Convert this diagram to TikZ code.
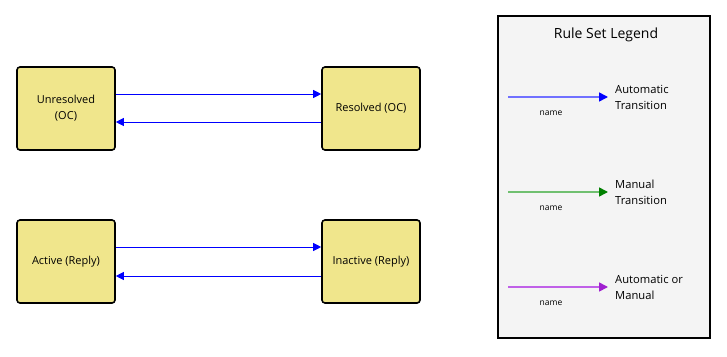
\documentclass[tikz,border=0pt]{standalone}
\usepackage{fontspec}
\setmainfont{Open Sans}
\usetikzlibrary{arrows.meta}
\definecolor{boxfill}{HTML}{F0E68C}
\definecolor{legfill}{HTML}{F4F4F4}
\definecolor{autoline}{HTML}{7070FF}
\definecolor{manline}{HTML}{70C070}
\definecolor{amline}{HTML}{C060E8}
\definecolor{amhead}{HTML}{A020D0}
\tikzset{
  state/.style={draw=black, line width=1.6pt, fill=boxfill, rounded corners=3pt,
    minimum width=98pt, minimum height=83pt, inner sep=2pt, align=center,
    font=\fontsize{11}{16}\selectfont},
  trans/.style={draw=blue, line width=0.9pt, -{Triangle[length=8pt,width=8pt]}},
  legarrow/.style={line width=1.6pt, -{Triangle[length=9pt,width=9pt]}},
  legtext/.style={anchor=west, align=left, inner sep=0pt, font=\fontsize{11.2}{16}\selectfont},
  namelbl/.style={inner sep=0pt, font=\fontsize{8.5}{10}\selectfont}
}
\begin{document}
\begin{tikzpicture}[x=1pt,y=-1pt]
\useasboundingbox (0,0) rectangle (727,356);
% states
\node[state] (unres) at (66,108.5) {Unresolved\\(OC)};
\node[state] (res) at (371,108.5) {Resolved (OC)};
\node[state] (act) at (66,261.5) {Active (Reply)};
\node[state] (inact) at (371,261.5) {Inactive (Reply)};
% transitions
\draw[trans] (unres.east |- 0,94) -- (res.west |- 0,94);
\draw[trans] (res.west |- 0,122) -- (unres.east |- 0,122);
\draw[trans] (act.east |- 0,247) -- (inact.west |- 0,247);
\draw[trans] (inact.west |- 0,276) -- (act.east |- 0,276);
% legend
\node[draw=black, line width=1.6pt, fill=legfill, minimum width=212pt, minimum height=322pt, inner sep=0pt] (legend) at (604,177) {};
\node[inner sep=0pt, font=\fontsize{14}{16}\selectfont] (legtitle) at (606,35) {Rule Set Legend};
% automatic
\coordinate (a1) at (508,97); \coordinate (a2) at (608,97);
\draw[legarrow, draw=autoline, -{Triangle[length=9pt,width=9pt,fill=blue,color=blue]}] (a1) -- (a2);
\node[namelbl] (an) at (551,113) {name};
\node[legtext] (at) at (615,97.5) {Automatic\\Transition};
% manual
\coordinate (m1) at (508,192); \coordinate (m2) at (608,192);
\draw[legarrow, draw=manline, -{Triangle[length=9pt,width=9pt,fill=green!50!black,color=green!50!black]}] (m1) -- (m2);
\node[namelbl] (mn) at (551,208) {name};
\node[legtext] (mt) at (615,192.5) {Manual\\Transition};
% automatic or manual
\coordinate (b1) at (508,287); \coordinate (b2) at (608,287);
\draw[legarrow, draw=amline, -{Triangle[length=9pt,width=9pt,fill=amhead,color=amhead]}] (b1) -- (b2);
\node[namelbl] (bn) at (551,303) {name};
\node[legtext] (bt) at (615,287.5) {Automatic or\\Manual};
\end{tikzpicture}
\end{document}
